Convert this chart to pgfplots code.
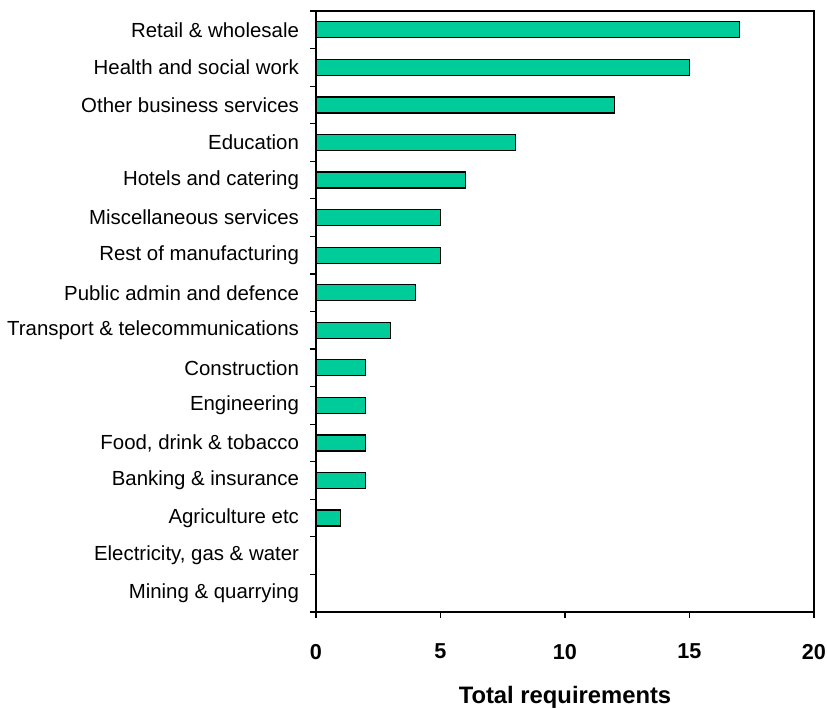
\documentclass[border=0pt]{standalone}
\usepackage{pgfplots}
\pgfplotsset{compat=1.18}
\usepackage{fontspec}
\setmainfont{Liberation Sans}
\definecolor{barfill}{HTML}{00CC99}
\begin{document}
\begin{tikzpicture}
\begin{axis}[
  at={(0,0)}, anchor=south west,
  scale only axis,
  width=249pt, height=300.5pt,
  xbar, bar width=8pt,
  xmin=0, xmax=20,
  ymin=-0.5, ymax=15.5,
  xtick={0,5,10,15,20},
  ytick={0,...,15},
  yticklabels={Mining \& quarrying, {Electricity, gas \& water}, Agriculture etc, Banking \& insurance, {Food, drink \& tobacco}, Engineering, Construction, Transport \& telecommunications, Public admin and defence, Rest of manufacturing, Miscellaneous services, Hotels and catering, Education, Other business services, Health and social work, Retail \& wholesale},
  minor ytick={-0.5,0.5,...,15.5},
  major y tick style={draw=none},
  minor y tick style={black, line width=0.6pt},
  minor tick length=3pt,
  tick align=outside,
  major tick length=3pt,
  x tick style={black, line width=0.6pt},
  xtick pos=bottom, ytick pos=left,
  axis line style={black, line width=0.7pt},
  yticklabel style={font=\fontsize{10.2}{12}\selectfont, xshift=-2pt},
  xticklabel style={font=\fontsize{10.8}{12}\selectfont\bfseries, yshift=-9.5pt},
  /pgf/number format/assume math mode=true,
  xlabel={Total requirements},
  xlabel style={font=\fontsize{11.9}{13}\selectfont\bfseries, yshift=-6.5pt},
  clip=false,
]
\addplot[fill=barfill, draw=black, line width=0.6pt] coordinates {
(0,0) (0,1) (1,2) (2,3) (2,4) (2,5) (2,6) (3,7) (4,8) (5,9) (5,10) (6,11) (8,12) (12,13) (15,14) (17,15)};
\end{axis}
\pgfresetboundingbox
\path (-158pt,-48.5pt) rectangle (255.5pt,306pt);
\end{tikzpicture}
\end{document}
